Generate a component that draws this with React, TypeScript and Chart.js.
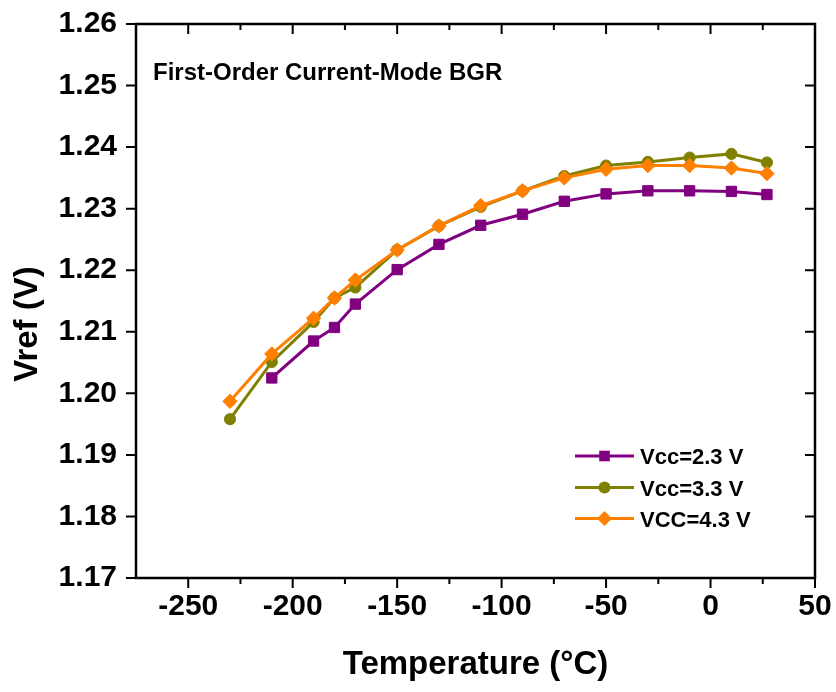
import React, { useEffect, useRef } from 'react';
import { Chart, registerables } from 'chart.js';

Chart.register(...registerables);

// ---- data ----
const temps23 = [-210, -190, -180, -170, -150, -130, -110, -90, -70, -50, -30, -10, 10, 27];
const vref23 = [1.2025, 1.2085, 1.2107, 1.2145, 1.2201, 1.2242, 1.2273, 1.2291, 1.2312, 1.2324, 1.2329, 1.2329, 1.2328, 1.2323];

const temps33 = [-230, -210, -190, -180, -170, -150, -130, -110, -90, -70, -50, -30, -10, 10, 27];
const vref33 = [1.1958, 1.2051, 1.2116, 1.2155, 1.2172, 1.2233, 1.2272, 1.2303, 1.2329, 1.2353, 1.2370, 1.2376, 1.2383, 1.2389, 1.2375];

const temps43 = [-230, -210, -190, -180, -170, -150, -130, -110, -90, -70, -50, -30, -10, 10, 27];
const vref43 = [1.1987, 1.2064, 1.2122, 1.2155, 1.2184, 1.2233, 1.2272, 1.2305, 1.2329, 1.2350, 1.2364, 1.2370, 1.2370, 1.2366, 1.2357];

const seriesLabels = ['Vcc=2.3 V', 'Vcc=3.3 V', 'VCC=4.3 V'];
const seriesColors = ['#800080', '#808000', '#FF8000'];
const seriesShapes = ['rect', 'circle', 'rectRot'];

const xMajorTicks = [-250, -200, -150, -100, -50, 0, 50];
const xMinorTicks = [-225, -175, -125, -75, -25, 25];
const yTicks = [1.17, 1.18, 1.19, 1.2, 1.21, 1.22, 1.23, 1.24, 1.25, 1.26];

const chartTitle = 'First-Order Current-Mode BGR';
const xTitle = 'Temperature (°C)';
const yTitle = 'Vref (V)';

const FONT = '"Liberation Sans", Arial, Helvetica, sans-serif';

const toPoints = (xs: number[], ys: number[]) => xs.map((x, i) => ({ x, y: ys[i] }));

function drawMarker(ctx: CanvasRenderingContext2D, shape: string, x: number, y: number, color: string) {
  ctx.fillStyle = color;
  ctx.beginPath();
  if (shape === 'rect') {
    const s = 5.3;
    ctx.rect(x - s, y - s, 2 * s, 2 * s);
  } else if (shape === 'circle') {
    ctx.arc(x, y, 6, 0, Math.PI * 2);
  } else {
    const r = 7.5;
    ctx.moveTo(x - r, y);
    ctx.lineTo(x, y - r);
    ctx.lineTo(x + r, y);
    ctx.lineTo(x, y + r);
    ctx.closePath();
  }
  ctx.fill();
}

const decorPlugin = {
  id: 'decor',
  afterDraw(chart: any) {
    const { ctx, chartArea: a, scales } = chart;
    const xs = scales.x;
    const ys = scales.y;
    ctx.save();

    // frame
    ctx.strokeStyle = '#000';
    ctx.lineWidth = 2.5;
    ctx.lineCap = 'square';
    ctx.strokeRect(a.left, a.top, a.right - a.left, a.bottom - a.top);

    // ticks
    ctx.lineWidth = 2;
    ctx.lineCap = 'butt';
    ctx.beginPath();
    xMajorTicks.forEach((v) => {
      const px = xs.getPixelForValue(v);
      ctx.moveTo(px, a.bottom);
      ctx.lineTo(px, a.bottom + 10);
      ctx.moveTo(px, a.top);
      ctx.lineTo(px, a.top + 10);
    });
    xMinorTicks.forEach((v) => {
      const px = xs.getPixelForValue(v);
      ctx.moveTo(px, a.bottom);
      ctx.lineTo(px, a.bottom + 6);
      ctx.moveTo(px, a.top);
      ctx.lineTo(px, a.top + 6);
    });
    yTicks.forEach((v) => {
      const py = ys.getPixelForValue(v);
      ctx.moveTo(a.left, py);
      ctx.lineTo(a.left - 10, py);
      ctx.moveTo(a.right, py);
      ctx.lineTo(a.right - 10, py);
    });
    ctx.stroke();

    // chart title inside plot
    ctx.fillStyle = '#000';
    ctx.font = `bold 24px ${FONT}`;
    ctx.textAlign = 'left';
    ctx.textBaseline = 'alphabetic';
    ctx.fillText(chartTitle, a.left + 17, a.top + 56);

    // axis titles
    ctx.font = `bold 33px ${FONT}`;
    ctx.textAlign = 'center';
    ctx.fillText(xTitle, (a.left + a.right) / 2, a.bottom + 96);
    ctx.save();
    ctx.translate(36.5, a.top + 300);
    ctx.rotate(-Math.PI / 2);
    ctx.fillText(yTitle, 0, 0);
    ctx.restore();

    // legend
    const lx0 = a.right - 240;
    const lx1 = a.right - 181;
    const mx = (lx0 + lx1) / 2;
    const tx = a.right - 175;
    const rowsY = [a.bottom - 122, a.bottom - 90.5, a.bottom - 59.5];
    ctx.font = `bold 22px ${FONT}`;
    ctx.textAlign = 'left';
    seriesLabels.forEach((label, i) => {
      const y = rowsY[i];
      ctx.strokeStyle = seriesColors[i];
      ctx.lineWidth = 3;
      ctx.beginPath();
      ctx.moveTo(lx0, y);
      ctx.lineTo(lx1, y);
      ctx.stroke();
      drawMarker(ctx, seriesShapes[i], mx, y, seriesColors[i]);
      ctx.fillStyle = '#000';
      ctx.fillText(label, tx, y + 8);
    });

    ctx.restore();
  },
};

export default function App() {
  const canvasRef = useRef<HTMLCanvasElement>(null);

  useEffect(() => {
    if (!canvasRef.current) return;
    const mk = (i: number, data: { x: number; y: number }[], radius: number, order: number) => ({
      label: seriesLabels[i],
      data,
      borderColor: seriesColors[i],
      backgroundColor: seriesColors[i],
      borderWidth: 3,
      pointStyle: seriesShapes[i] as any,
      pointRadius: radius,
      pointBorderWidth: 1,
      pointBorderColor: seriesColors[i],
      pointBackgroundColor: seriesColors[i],
      tension: 0,
      fill: false,
      order,
    });

    const chart = new Chart(canvasRef.current, {
      type: 'line',
      data: {
        datasets: [
          mk(0, toPoints(temps23, vref23), 7.3, 2),
          mk(1, toPoints(temps33, vref33), 5.6, 1),
          mk(2, toPoints(temps43, vref43), 7.2, 0),
        ],
      },
      options: {
        animation: false,
        responsive: true,
        maintainAspectRatio: false,
        layout: { padding: { left: 0, top: 24, right: 21, bottom: 0 } },
        plugins: {
          legend: { display: false },
          tooltip: { enabled: false },
          title: { display: false },
        },
        scales: {
          x: {
            type: 'linear',
            min: -275,
            max: 50,
            grid: { display: false, drawTicks: false },
            border: { display: false },
            afterBuildTicks: (scale: any) => {
              scale.ticks = xMajorTicks.map((v) => ({ value: v }));
            },
            afterFit: (scale: any) => {
              scale.height = 114;
              scale.paddingLeft = 0;
              scale.paddingRight = 0;
              scale.paddingTop = 0;
              scale.paddingBottom = 0;
            },
            ticks: {
              autoSkip: false,
              maxRotation: 0,
              padding: 11,
              color: '#000',
              font: { family: FONT, size: 30, weight: 'bold' },
              callback: (v: any) => String(v),
            },
          },
          y: {
            type: 'linear',
            min: 1.17,
            max: 1.26,
            grid: { display: false, drawTicks: false },
            border: { display: false },
            afterBuildTicks: (scale: any) => {
              scale.ticks = yTicks.map((v) => ({ value: v }));
            },
            afterFit: (scale: any) => {
              scale.width = 136;
              scale.paddingLeft = 0;
              scale.paddingRight = 0;
              scale.paddingTop = 0;
              scale.paddingBottom = 0;
            },
            ticks: {
              autoSkip: false,
              padding: 19,
              color: '#000',
              font: { family: FONT, size: 30, weight: 'bold' },
              callback: (v: any) => Number(v).toFixed(2),
            },
          },
        },
      },
      plugins: [decorPlugin],
    } as any);

    return () => chart.destroy();
  }, []);

  return (
    <div style={{ position: 'absolute', left: 0, top: 0, width: 836, height: 692, background: '#fff' }}>
      <canvas ref={canvasRef} />
    </div>
  );
}
